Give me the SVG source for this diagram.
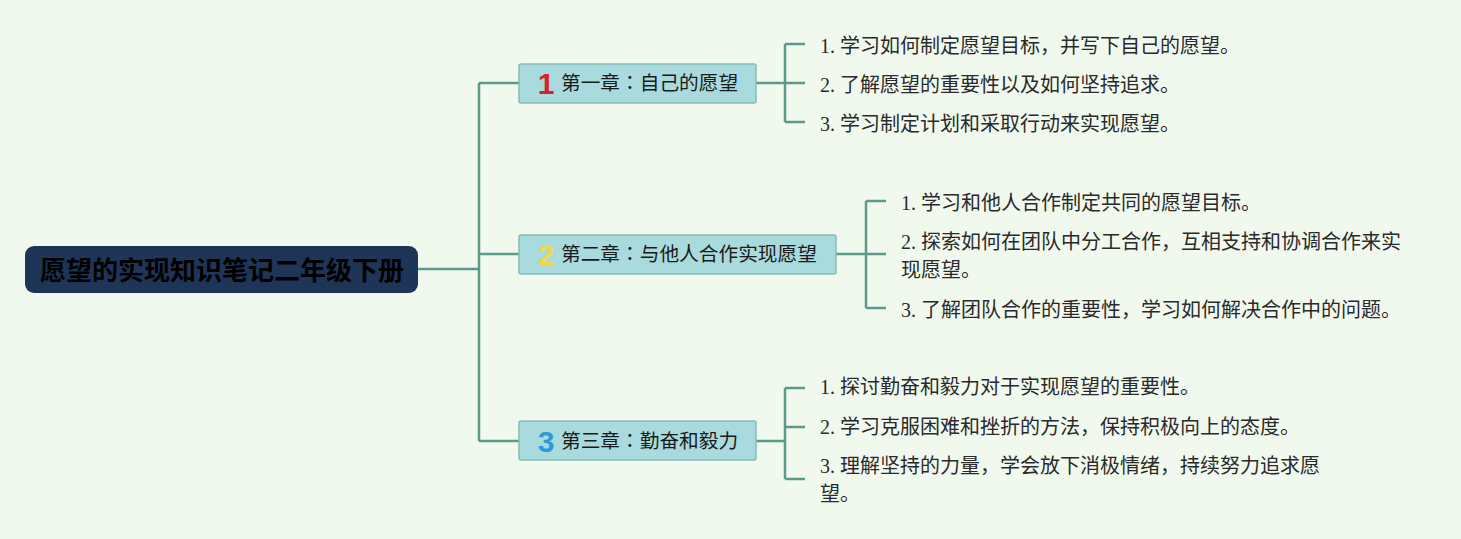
<svg xmlns="http://www.w3.org/2000/svg" width="1461" height="539" viewBox="0 0 1461 539">
<style>
.bg{fill:#f1f9ef}
.conn{fill:none;stroke:#5e9a89;stroke-width:2.5}
.root{fill:#1e3557}
.roottxt{font-family:"Noto Sans CJK SC",sans-serif;font-weight:bold;font-size:26px;fill:#000;text-anchor:middle}
.ch{fill:#a9dadd;stroke:#86bcb6;stroke-width:1.5}
.chtxt{font-family:"Noto Sans CJK SC",sans-serif;font-size:19.7px;fill:#1a1a1a}
.colon{font-family:"Noto Sans CJK TC",sans-serif}
.num{font-family:"Liberation Sans","DejaVu Sans",sans-serif;font-weight:bold;font-size:30px;text-anchor:middle}
.item{font-family:"Liberation Serif","Noto Sans CJK SC",serif;font-size:20px;fill:#2a2a2a}
</style>
<rect class="bg" x="0" y="0" width="1461" height="539"/>
<g id="connectors">
<path class="conn" d="M418 269 H479 M479 83 V441 M479 83 H519 M479 254 H519 M479 441 H519"/>
<path class="conn" d="M756 83 H785 M785 44 V122 M785 44 H805 M785 83 H805 M785 122 H805"/>
<path class="conn" d="M836 254 H866 M866 201 V308 M866 201 H886 M866 254 H886 M866 308 H886"/>
<path class="conn" d="M756 441 H785 M785 388 V479 M785 388 H805 M785 427 H805 M785 479 H805"/>
</g>
<g id="root">
<rect class="root" x="25" y="246" width="393" height="47" rx="9"/>
<text class="roottxt" x="222" y="280">愿望的实现知识笔记二年级下册</text>
</g>
<g id="ch1">
<rect class="ch" x="519" y="64" width="237" height="39" rx="2"/>
<text class="num" x="546" y="94" fill="#d6202e">1</text>
<text class="chtxt" x="561" y="90">第一章<tspan class="colon">：</tspan>自己的愿望</text>
</g>
<g id="ch2">
<rect class="ch" x="519" y="235" width="317" height="39" rx="2"/>
<text class="num" x="546" y="265" fill="#f2d64b">2</text>
<text class="chtxt" x="561" y="261">第二章<tspan class="colon">：</tspan>与他人合作实现愿望</text>
</g>
<g id="ch3">
<rect class="ch" x="519" y="421" width="237" height="39" rx="2"/>
<text class="num" x="546" y="452" fill="#2e9ad8">3</text>
<text class="chtxt" x="561" y="448">第三章<tspan class="colon">：</tspan>勤奋和毅力</text>
</g>
<g id="ch1-items">
<text class="item" x="820" y="53">1. 学习如何制定愿望目标，并写下自己的愿望。</text>
<text class="item" x="820" y="92">2. 了解愿望的重要性以及如何坚持追求。</text>
<text class="item" x="820" y="131">3. 学习制定计划和采取行动来实现愿望。</text>
</g>
<g id="ch2-items">
<text class="item" x="901" y="210">1. 学习和他人合作制定共同的愿望目标。</text>
<text class="item" x="901" y="249">2. 探索如何在团队中分工合作，互相支持和协调合作来实</text>
<text class="item" x="901" y="277">现愿望。</text>
<text class="item" x="901" y="317">3. 了解团队合作的重要性，学习如何解决合作中的问题。</text>
</g>
<g id="ch3-items">
<text class="item" x="820" y="394">1. 探讨勤奋和毅力对于实现愿望的重要性。</text>
<text class="item" x="820" y="434">2. 学习克服困难和挫折的方法，保持积极向上的态度。</text>
<text class="item" x="820" y="473">3. 理解坚持的力量，学会放下消极情绪，持续努力追求愿</text>
<text class="item" x="820" y="501">望。</text>
</g>
</svg>
